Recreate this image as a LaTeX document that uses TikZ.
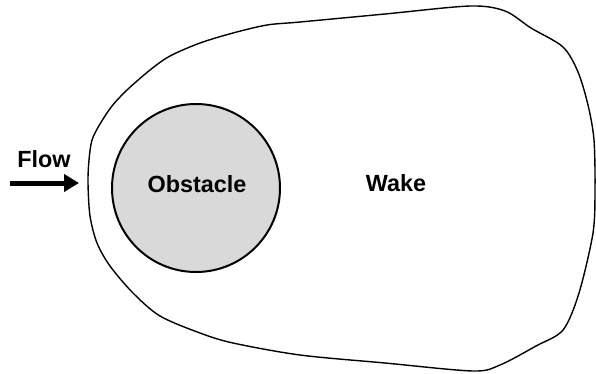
\documentclass[tikz,border=0pt]{standalone}
\usepackage{fontspec}
\setmainfont{Liberation Sans}
\usepackage{tikz}
\usetikzlibrary{arrows.meta,positioning}
\usepackage{xcolor}
\definecolor{obstaclegray}{HTML}{D9D9D9}

\begin{document}
\begin{tikzpicture}[x=1bp,y=-1bp,
  obstacle_node/.style={circle, draw, line width=2bp, fill=obstaclegray,
                        minimum size=168bp, inner sep=0pt},
  label_node/.style={rectangle, draw=none, inner sep=0pt,
                     font=\fontsize{23.5}{28}\selectfont\bfseries},
  wake_line/.style={line width=1.4bp, line join=round},
  flow_arrow/.style={-{Triangle[length=15bp,width=17bp]}, line width=5bp}
]
\useasboundingbox (0,0) rectangle (596,373);

% Wake boundary (closed, hand-drawn look)
\draw[wake_line] plot[smooth cycle, tension=0.5] coordinates {
  (88,183) (89,160) (92,140) (100,124) (112,106) (127,90) (150,70)
  (170,56) (200,43) (233,33) (267,25) (300,22) (385,14) (470,6)
  (505,11) (531,28) (563,47) (578,72) (588,105) (594,140) (595,190)
  (593,233) (579,293) (563,330) (536,346) (500,365) (473,371)
  (385,363) (300,355) (233,343) (200,333) (160,316) (133,293)
  (110,266) (97,243) (90,216)
};

% Obstacle
\node[obstacle_node] (obstacle) at (196,188) {};
\node[label_node] (obstaclelabel) at (197,184) {Obstacle};

% Wake label
\node[label_node] (wake) at (396,183) {Wake};

% Incoming flow
\node[label_node] (flow) at (44,159) {Flow};
\coordinate (flowstart) at (10,183);
\coordinate (flowend) at (79,183);
\draw[flow_arrow] (flowstart) -- (flowend);

\end{tikzpicture}
\end{document}
